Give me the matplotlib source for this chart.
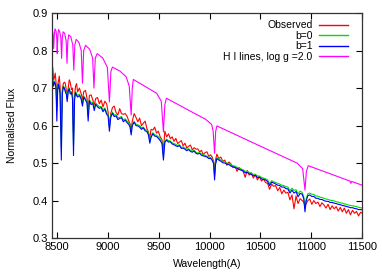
import matplotlib
matplotlib.use("Agg")
import matplotlib.pyplot as plt

plt.rcParams["font.family"] = ["Liberation Sans", "DejaVu Sans"]

# shared wavelength grid of the observed / model spectra (Angstrom)
wave = [
    8450, 8458, 8466, 8474, 8482, 8490, 8498, 8506, 8514, 8522, 8530, 8542, 8552, 8562,
    8572, 8582, 8592, 8600, 8610, 8620, 8630, 8642, 8652, 8662, 8672, 8682, 8692, 8702,
    8720, 8738, 8750, 8762, 8780, 8795, 8806, 8818, 8835, 8852, 8866, 8880, 8898, 8916,
    8934, 8952, 8970, 8988, 9002, 9015, 9028, 9045, 9062, 9080, 9098, 9116, 9134, 9152,
    9170, 9188, 9206, 9218, 9229, 9240, 9258, 9276, 9294, 9312, 9330, 9348, 9366, 9384,
    9400, 9412, 9424, 9442, 9460, 9478, 9496, 9514, 9532, 9546, 9560, 9578, 9596, 9614,
    9632, 9650, 9668, 9686, 9704, 9722, 9740, 9758, 9776, 9794, 9812, 9830, 9848, 9866,
    9884, 9902, 9920, 9938, 9956, 9974, 9992, 10010, 10028, 10040, 10049, 10058, 10072,
    10090, 10110, 10130, 10150, 10170, 10190, 10210, 10230, 10250, 10270, 10290, 10310,
    10330, 10350, 10370, 10390, 10410, 10430, 10450, 10470, 10490, 10510, 10530, 10550,
    10570, 10590, 10610, 10630, 10650, 10670, 10690, 10710, 10730, 10750, 10770, 10790,
    10810, 10830, 10850, 10870, 10890, 10910, 10926, 10938, 10950, 10966, 10985, 11005,
    11025, 11045, 11065, 11085, 11105, 11125, 11145, 11165, 11185, 11205, 11225, 11245,
    11265, 11285, 11305, 11325, 11345, 11365, 11385, 11405, 11425, 11445, 11465, 11485,
    11500,
]

flux_b1 = [
    .726, .718, .705, .716, .712, .700, .612, .694, .710, .701, .684, .508, .686, .703,
    .699, .690, .683, .664, .692, .698, .684, .688, .672, .520, .668, .688, .680, .676,
    .680, .670, .652, .676, .668, .660, .612, .666, .656, .659, .640, .657, .650, .646,
    .648, .637, .644, .630, .626, .585, .622, .633, .624, .626, .616, .619, .621, .610,
    .615, .608, .603, .596, .575, .600, .609, .600, .599, .596, .590, .594, .586, .584,
    .574, .553, .568, .578, .572, .571, .566, .560, .552, .508, .556, .561, .556, .557,
    .551, .549, .546, .544, .547, .539, .540, .537, .533, .536, .531, .529, .532, .526,
    .524, .526, .521, .519, .518, .516, .512, .513, .506, .498, .455, .496, .512,
    .508, .505, .501, .500, .497, .496, .492, .490, .488, .486, .483, .481,
    .479, .474, .475, .471, .470, .466, .467, .462, .462, .458, .456, .455,
    .451, .440, .449, .447, .444, .441, .440, .436, .436, .432, .431, .420,
    .428, .420, .424, .410, .419, .417, .405, .370, .400, .413, .415, .411,
    .411, .406, .406, .403, .403, .400, .398, .398, .395, .395, .393, .392,
    .390, .389, .387, .386, .384, .383, .381, .381, .379, .378, .376, .376,
    .375,
]

flux_b0 = [
    .729, .722, .712, .719, .716, .707, .640, .700, .713, .705, .690, .540, .691, .706,
    .702, .695, .687, .670, .695, .701, .689, .691, .678, .548, .673, .691, .685, .680,
    .684, .674, .658, .679, .672, .665, .625, .669, .661, .662, .647, .660, .655, .650,
    .651, .642, .647, .635, .631, .595, .627, .636, .628, .629, .621, .622, .624, .615,
    .618, .612, .607, .601, .582, .603, .611, .604, .602, .600, .594, .596, .590, .588,
    .579, .560, .573, .581, .576, .574, .570, .565, .558, .520, .559, .564, .560, .559,
    .554, .552, .550, .547, .549, .542, .543, .540, .537, .538, .534, .532, .534, .529,
    .527, .528, .524, .522, .521, .518, .516, .515, .510, .502, .465, .499, .514,
    .511, .508, .505, .503, .500, .499, .496, .493, .491, .489, .487, .484,
    .482, .478, .478, .475, .473, .470, .470, .466, .465, .462, .460, .458,
    .455, .445, .453, .450, .448, .446, .444, .441, .440, .437, .436, .426,
    .433, .427, .429, .418, .425, .422, .410, .380, .405, .418, .420, .417,
    .416, .412, .412, .409, .408, .406, .404, .403, .401, .400, .399, .397,
    .396, .394, .393, .391, .390, .388, .387, .386, .385, .384, .382, .381,
    .380,
]

flux_obs = [
    .742, .755, .722, .728, .740, .716, .650, .709, .718, .732, .704, .590, .698, .712,
    .716, .712, .692, .686, .700, .722, .715, .696, .700, .585, .680, .705, .712, .690,
    .700, .684, .668, .690, .694, .672, .638, .680, .682, .668, .655, .672, .675, .658,
    .668, .650, .665, .658, .636, .600, .632, .648, .652, .635, .628, .645, .632, .630,
    .632, .625, .612, .605, .590, .612, .632, .622, .610, .620, .600, .606, .612, .592,
    .582, .565, .590, .588, .596, .580, .585, .570, .562, .535, .585, .570, .578, .565,
    .570, .558, .566, .552, .556, .560, .546, .553, .540, .545, .548, .535, .541, .537,
    .538, .530, .534, .522, .528, .530, .518, .522, .515, .503, .470, .508, .524,
    .512, .516, .505, .508, .494, .503, .498, .488, .492, .478, .488, .483,
    .478, .462, .480, .468, .474, .460, .470, .455, .465, .452, .458, .448,
    .446, .430, .444, .438, .440, .426, .435, .418, .428, .420, .422, .402,
    .415, .378, .412, .392, .405, .400, .396, .385, .392, .400, .404, .390,
    .400, .392, .396, .384, .394, .388, .380, .390, .376, .386, .378, .384,
    .372, .382, .370, .380, .366, .376, .362, .374, .366, .371, .359, .369,
    .366,
]

# synthetic H I (Paschen) spectrum
hi_wave = [
    8450, 8460, 8467, 8474, 8480, 8490, 8497, 8502, 8507, 8514, 8525, 8537, 8545, 8552,
    8560, 8575, 8590, 8598, 8606, 8615, 8635, 8655, 8665, 8675, 8688, 8715, 8738, 8750,
    8762, 8780, 8820, 8850, 8863, 8876, 8895, 8950, 8995, 9015, 9030, 9045, 9120, 9180,
    9210, 9229, 9240, 9250, 9350, 9480, 9525, 9546, 9560, 9575, 9800, 9960, 10020, 10035,
    10049, 10060, 10072, 10500, 10860, 10915, 10938, 10952, 10970, 11380, 11389, 11396,
    11500,
]
hi_flux = [
    .860, .845, .805, .845, .858, .852, .835, .792, .835, .856, .852, .835, .779, .835,
    .850, .846, .825, .766, .825, .842, .837, .815, .748, .815, .830, .822, .800, .713,
    .800, .814, .804, .780, .700, .780, .792, .780, .755, .663, .745, .756, .745, .730,
    .705, .628, .700, .723, .707, .686, .665, .583, .655, .673, .640, .617, .603, .585,
    .526, .585, .599, .545, .500, .485, .428, .478, .493, .452, .446, .451,
    .441,
]

fig = plt.figure(figsize=(3.82, 2.73), dpi=100)
ax = fig.add_axes([0.136, 0.128, 0.812, 0.824])

ax.plot(wave, flux_obs, color="#ff0000", lw=0.8, label="Observed")
ax.plot(wave, flux_b0, color="#00dd00", lw=0.8, label="b=0")
ax.plot(wave, flux_b1, color="#0000ff", lw=0.8, label="b=1")
ax.plot(hi_wave, hi_flux, color="#ff00ff", lw=0.8, label="H I lines, log g =2.0")

ax.set_xlim(8450, 11500)
ax.set_ylim(0.3, 0.9)
ax.set_xticks([8500, 9000, 9500, 10000, 10500, 11000, 11500])
ax.set_yticks([0.3, 0.4, 0.5, 0.6, 0.7, 0.8, 0.9])
ax.tick_params(direction="in", top=True, right=True, length=4, width=0.8,
               labelsize=8, pad=3)
for s in ax.spines.values():
    s.set_linewidth(0.9)
    s.set_color("#333333")

ax.set_xlabel("Wavelength(A)", fontsize=7.5, labelpad=5)
ax.set_ylabel("Normalised Flux", fontsize=7.5, labelpad=11)

leg = ax.legend(loc="upper right", frameon=False, markerfirst=False, fontsize=7.5,
                handlelength=2.8, handletextpad=0.6, labelspacing=0.05,
                borderaxespad=0.3, bbox_to_anchor=(0.978, 1.0))
for line in leg.get_lines():
    line.set_linewidth(1.0)
for t in leg.get_texts():
    t.set_ha("right")

fig.savefig("out.png", dpi=100)
